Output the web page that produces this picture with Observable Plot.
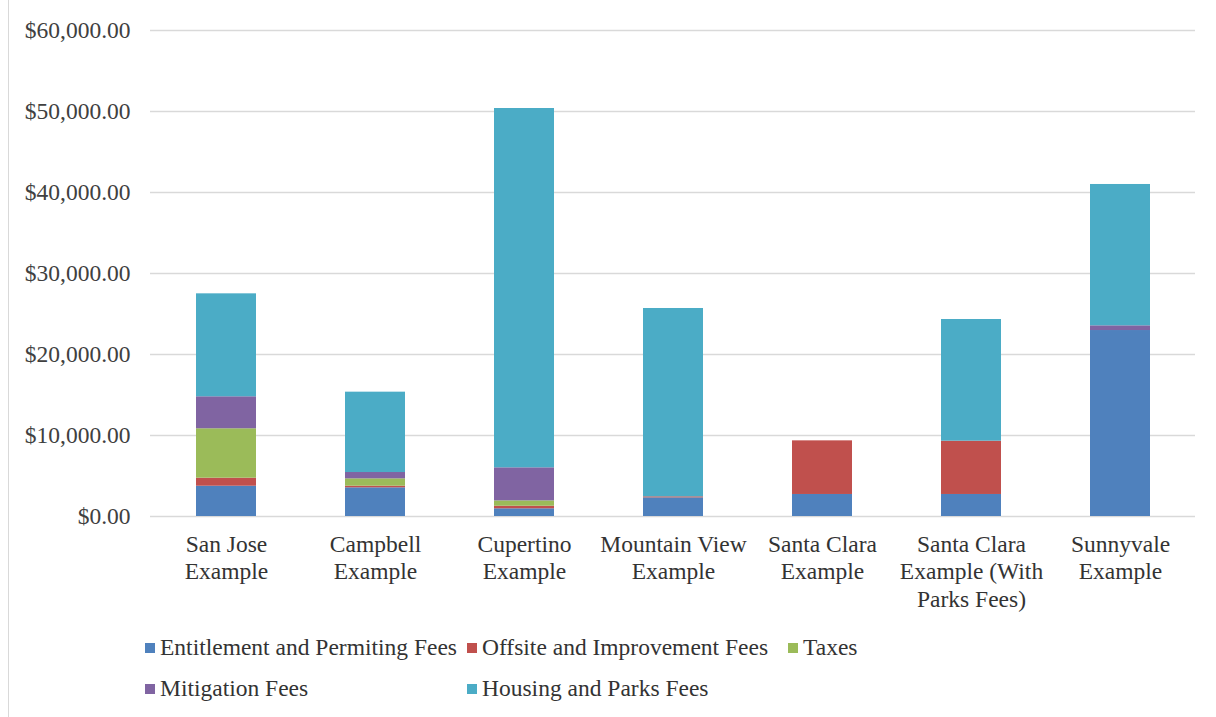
<!DOCTYPE html>
<html><head><meta charset="utf-8">
<script src="https://cdn.jsdelivr.net/npm/d3@7"></script>
<script src="https://cdn.jsdelivr.net/npm/@observablehq/plot@0.6"></script>
<style>
body{margin:0;background:#fff;}
#wrap{position:relative;width:1216px;height:717px;overflow:hidden;font-family:"Liberation Serif","Times New Roman",serif;}
#frame{position:absolute;left:8px;top:0;height:717px;border-left:1.5px solid #d9d9d9;}
#chart{position:absolute;left:0;top:0;}
#legend{position:absolute;left:145px;top:633px;width:1000px;height:80px;font-size:23.5px;color:#333;}
.item{position:absolute;white-space:nowrap;line-height:28px;}
.sw{display:inline-block;width:10px;height:10px;margin-right:5px;vertical-align:2px;}
</style>
</head><body>
<div id="wrap"><div id="frame"></div><div id="chart"></div><div id="legend"></div></div>
<script>
const categories = ["San Jose Example","Campbell Example","Cupertino Example","Mountain View Example","Santa Clara Example","Santa Clara Example (With Parks Fees)","Sunnyvale Example"];
const tickLabels = ["San Jose\nExample","Campbell\nExample","Cupertino\nExample","Mountain View\nExample","Santa Clara\nExample","Santa Clara\nExample (With\nParks Fees)","Sunnyvale\nExample"];
const seriesNames = ["Entitlement and Permiting Fees","Offsite and Improvement Fees","Taxes","Mitigation Fees","Housing and Parks Fees"];
const seriesColors = ["#4F81BD","#C0504D","#9BBB59","#8064A2","#4BACC6"];
const entitlement = [3740, 3540, 950, 2300, 2720, 2720, 22960];
const offsite     = [990, 200, 320, 130, 6620, 6580, 0];
const taxes       = [6100, 910, 660, 0, 0, 0, 0];
const mitigation  = [3950, 780, 4080, 0, 0, 0, 580];
const housing     = [12710, 9920, 44360, 23250, 0, 15020, 17450];
const yTicks = [0,10000,20000,30000,40000,50000,60000];

const seriesValues = [entitlement, offsite, taxes, mitigation, housing];
const data = [];
seriesNames.forEach((s,i)=>seriesValues[i].forEach((v,j)=>data.push({category:categories[j], series:s, value:v})));

const font = '"Liberation Serif","Times New Roman",serif';
const chart = Plot.plot({
  width:1216, height:620, marginTop:30, marginBottom:104, marginLeft:150, marginRight:21,
  style:{fontFamily:font, fontSize:"23.5px", color:"#404040", background:"transparent", overflow:"visible"},
  x:{domain:categories, paddingInner:0.6, paddingOuter:0.3, label:null, axis:null},
  y:{domain:[0,60000], label:null, axis:null},
  color:{domain:seriesNames, range:seriesColors},
  marks:[
    Plot.gridY(yTicks,{stroke:"#d9d9d9", strokeOpacity:1, strokeWidth:1.5}),
    Plot.barY(data,{x:"category", y:"value", fill:"series", order:seriesNames}),
    Plot.axisY(yTicks,{tickSize:0, tickPadding:20, tickFormat:d=>"$"+d3.format(",.2f")(d), label:null, fontSize:23.5, fill:"#404040"}),
    Plot.axisX({tickSize:0, tickPadding:15.5, tickFormat:d=>tickLabels[categories.indexOf(d)], lineHeight:1.17, label:null, fontSize:23.5, fill:"#333"})
  ]
});
document.getElementById("chart").appendChild(chart);

const lg = document.getElementById("legend");
const pos = [[0,0],[322,0],[643,0],[0,41],[322,41]];
seriesNames.forEach((s,i)=>{
  const d = document.createElement("div");
  d.className="item";
  d.style.left=pos[i][0]+"px"; d.style.top=pos[i][1]+"px";
  d.innerHTML=`<span class="sw" style="background:${seriesColors[i]}"></span>${s}`;
  lg.appendChild(d);
});
</script>
</body></html>
